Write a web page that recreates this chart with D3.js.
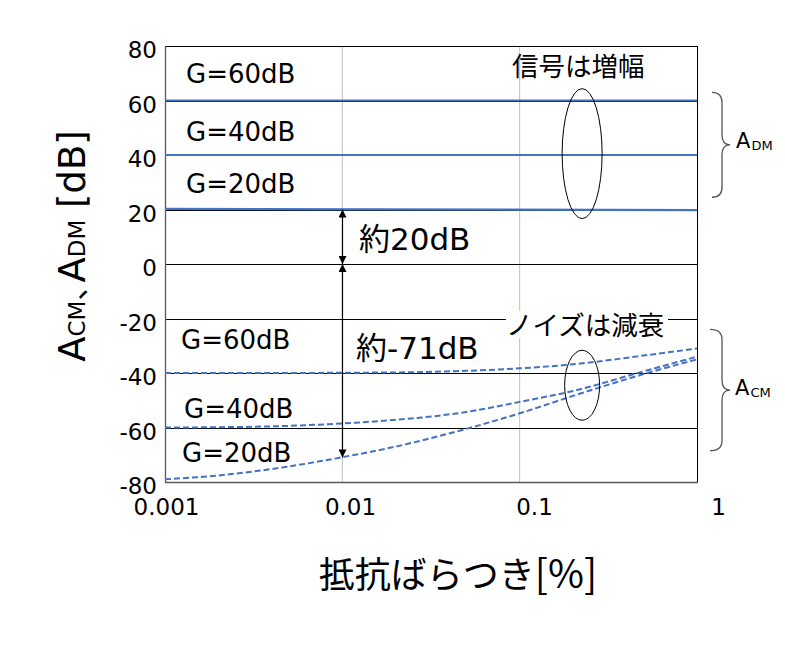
<!DOCTYPE html>
<html>
<head>
<meta charset="utf-8">
<script src="https://cdn.jsdelivr.net/npm/d3@7"></script>
<style>
  html, body { margin: 0; padding: 0; background: #fff; }
  svg { display: block; }
  text { font-family: "DejaVu Sans", "Noto Sans CJK JP", sans-serif; fill: #000; }
</style>
</head>
<body>
<svg id="chart" width="785" height="653"></svg>
<script>
// ---------- data ----------
const xTickValues = [0.001, 0.01, 0.1, 1];
const xTickLabels = ["0.001", "0.01", "0.1", "1"];
const yTickValues = [-80, -60, -40, -20, 0, 20, 40, 60, 80];
const gridXValues = [0.01, 0.1];
const gridYValues = [-60, -40, -20, 0, 20, 40, 60];

// differential-mode gain (solid)
const admX = [0.001, 1];
const adm60 = [60, 60];
const adm40 = [40, 40];
const adm20 = [20.2, 19.8];

// common-mode gain (dashed)
const acmX = [0.001, 0.002, 0.005, 0.01, 0.02, 0.05, 0.1, 0.2, 0.5, 1];
const acm60 = [-40, -40, -40, -39.9, -39.8, -39.2, -38.3, -36.8, -33.6, -31];
const acm40 = [-60, -59.9, -59.4, -58.5, -57.2, -54.3, -50.6, -46.6, -39.4, -34];
const acm20 = [-79, -77.6, -74.3, -70.9, -67, -60.5, -54.8, -48.4, -40.4, -35];

const dmLabels = ["G=60dB", "G=40dB", "G=20dB"];
const cmLabels = ["G=60dB", "G=40dB", "G=20dB"];

// ---------- layout ----------
const svg = d3.select("#chart");
const L = 165, R = 697, T = 46, B = 482;
const x = d3.scaleLog().domain([0.001, 1]).range([L, R]);
const y = d3.scaleLinear().domain([-80, 80]).range([B, T]);
const xLab = d3.scaleLog().domain([0.001, 1]).range([166, 718]);
const blue = "#4472C4";

// vertical grid (light gray)
svg.append("g").selectAll("line").data(gridXValues).join("line")
  .attr("x1", d => x(d)).attr("x2", d => x(d))
  .attr("y1", T).attr("y2", B)
  .attr("stroke", "#c0c0c0").attr("stroke-width", 1);

// horizontal grid (black)
svg.append("g").selectAll("line").data(gridYValues).join("line")
  .attr("x1", L).attr("x2", R)
  .attr("y1", d => Math.round(y(d)) + 0.5).attr("y2", d => Math.round(y(d)) + 0.5)
  .attr("stroke", "#000").attr("stroke-width", 1);

// frame
svg.append("line").attr("x1", L).attr("x2", R).attr("y1", T + 0.5).attr("y2", T + 0.5).attr("stroke", "#000");
svg.append("line").attr("x1", R + 0.5).attr("x2", R + 0.5).attr("y1", T).attr("y2", B).attr("stroke", "#000");
svg.append("line").attr("x1", L).attr("x2", R + 1).attr("y1", B + 0.5).attr("y2", B + 0.5).attr("stroke", "#595959").attr("stroke-width", 1.3);
svg.append("line").attr("x1", L + 0.5).attr("x2", L + 0.5).attr("y1", T).attr("y2", B + 1).attr("stroke", "#595959").attr("stroke-width", 1.3);

// y axis tick labels
const yAxis = d3.axisLeft(y).tickValues(yTickValues).tickSize(0).tickPadding(8).tickFormat(d => String(d));
const gy = svg.append("g").attr("transform", `translate(${L},0)`).call(yAxis);
gy.select(".domain").remove();
gy.selectAll("text").attr("font-size", 23).attr("font-family", "DejaVu Sans")
  .attr("dy", "0.5em").attr("fill", "#000");

// x axis tick labels
const xAxis = d3.axisBottom(xLab).tickValues(xTickValues).tickSize(0).tickPadding(17)
  .tickFormat((d, i) => xTickLabels[i]);
const gx = svg.append("g").attr("transform", `translate(0,${B})`).call(xAxis);
gx.select(".domain").remove();
gx.selectAll("text").attr("font-size", 23).attr("font-family", "DejaVu Sans").attr("fill", "#000");

// ADM solid lines
const lineDM = d3.line().x(d => x(d[0])).y(d => y(d[1]));
[adm60, adm40, adm20].forEach(s => {
  svg.append("path").datum(admX.map((v, i) => [v, s[i]]))
    .attr("d", lineDM).attr("fill", "none").attr("stroke", blue).attr("stroke-width", 2.2);
});

// ACM dashed curves
const lineCM = d3.line().x(d => x(d[0])).y(d => y(d[1])).curve(d3.curveMonotoneX);
[acm60, acm40, acm20].forEach(s => {
  svg.append("path").datum(acmX.map((v, i) => [v, s[i]]))
    .attr("d", lineCM).attr("fill", "none").attr("stroke", blue)
    .attr("stroke-width", 2).attr("stroke-dasharray", "6,3");
});

// arrows
const defs = svg.append("defs");
defs.append("marker").attr("id", "ah").attr("viewBox", "0 0 10 10")
  .attr("refX", 10).attr("refY", 5).attr("markerWidth", 8).attr("markerHeight", 8)
  .attr("markerUnits", "userSpaceOnUse").attr("orient", "auto-start-reverse")
  .append("path").attr("d", "M0,0 L10,5 L0,10 Z").attr("fill", "#000");
const ax = Math.round(x(0.01)) + 0.5;
svg.append("line").attr("x1", ax).attr("x2", ax).attr("y1", y(20)).attr("y2", y(0))
  .attr("stroke", "#000").attr("stroke-width", 1.2)
  .attr("marker-start", "url(#ah)").attr("marker-end", "url(#ah)");
svg.append("line").attr("x1", ax).attr("x2", ax).attr("y1", y(0)).attr("y2", y(-71))
  .attr("stroke", "#000").attr("stroke-width", 1.2)
  .attr("marker-start", "url(#ah)").attr("marker-end", "url(#ah)");

// ellipses
svg.append("ellipse").attr("cx", x(0.225)).attr("cy", y(40.5)).attr("rx", 20).attr("ry", 65)
  .attr("fill", "none").attr("stroke", "#000").attr("stroke-width", 1);
svg.append("ellipse").attr("cx", x(0.225)).attr("cy", y(-44.5)).attr("rx", 17.5).attr("ry", 35)
  .attr("fill", "none").attr("stroke", "#000").attr("stroke-width", 1);

// text labels
const dmBase = [83, 141, 193];
dmLabels.forEach((t, i) => {
  svg.append("text").attr("x", 186).attr("y", dmBase[i]).attr("font-size", 26).text(t);
});
const cmBase = [349, 418, 462];
const cmX = [181, 184, 182];
cmLabels.forEach((t, i) => {
  svg.append("text").attr("x", cmX[i]).attr("y", cmBase[i]).attr("font-size", 26).text(t);
});

svg.append("text").attr("x", 359).attr("y", 250).attr("font-size", 31).text("約20dB");
svg.append("text").attr("x", 356).attr("y", 359).attr("font-size", 31).text("約-71dB");

svg.append("text").attr("x", 512).attr("y", 76).attr("font-size", 26.5)
  .attr("font-family", "Noto Sans CJK JP").text("信号は増幅");

svg.append("rect").attr("x", 506).attr("y", 311).attr("width", 162).attr("height", 27).attr("fill", "#fff");
svg.append("text").attr("x", 506).attr("y", 335).attr("font-size", 26.5)
  .attr("font-family", "Noto Sans CJK JP").text("ノイズは減衰");

// braces
function brace(yTop, yBot, xs, xe, tipX) {
  const m = (yTop + yBot) / 2, r = 10;
  return `M${xs},${yTop} Q${xe},${yTop} ${xe},${yTop + r} L${xe},${m - r} Q${xe},${m} ${tipX},${m}` +
         ` Q${xe},${m} ${xe},${m + r} L${xe},${yBot - r} Q${xe},${yBot} ${xs},${yBot}`;
}
svg.append("path").attr("d", brace(y(63), y(24.5), 712, 722, 730))
  .attr("fill", "none").attr("stroke", "#555").attr("stroke-width", 1.3);
svg.append("path").attr("d", brace(y(-24), y(-68.5), 710, 722, 730))
  .attr("fill", "none").attr("stroke", "#555").attr("stroke-width", 1.3);

function aLabel(xp, yp, sub) {
  const t = svg.append("text").attr("x", xp).attr("y", yp).attr("font-size", 21);
  t.append("tspan").text("A");
  t.append("tspan").attr("font-size", 13).attr("dx", 1).attr("dy", 2).text(sub);
}
aLabel(736, 148, "DM");
aLabel(735, 395, "CM");

// y axis title
const yt = svg.append("text").attr("transform", "translate(85,246) rotate(-90)")
  .attr("text-anchor", "middle").attr("font-size", 37);
yt.append("tspan").text("A");
yt.append("tspan").attr("font-size", 23).text("CM");
yt.append("tspan").attr("font-family", "Noto Sans CJK JP").attr("font-size", 30).text("、");
yt.append("tspan").attr("dx", -12).text("A");
yt.append("tspan").attr("font-size", 23).text("DM");
yt.append("tspan").text(" [dB]");

// x axis title
const xt = svg.append("text").attr("x", 458).attr("y", 588).attr("text-anchor", "middle").attr("font-size", 36);
xt.append("tspan").attr("font-family", "Noto Sans CJK JP").text("抵抗ばらつき");
xt.append("tspan").attr("font-family", "Noto Sans CJK JP").attr("font-size", 39).text("[%]");
</script>
</body>
</html>
